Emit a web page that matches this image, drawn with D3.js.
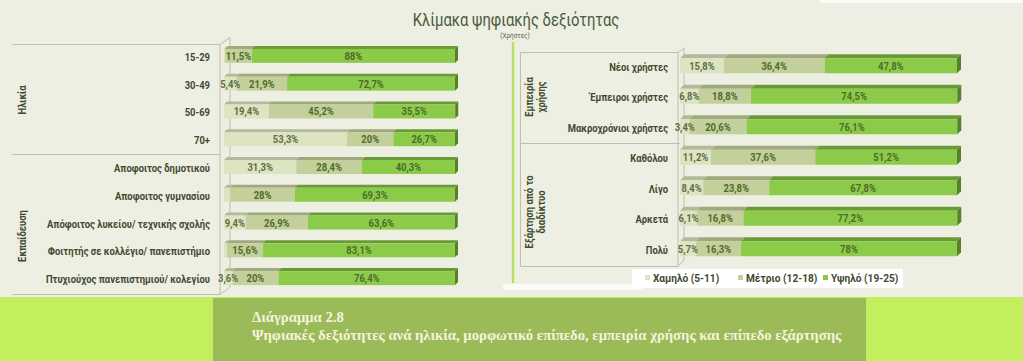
<!DOCTYPE html>
<html>
<head>
<meta charset="utf-8">
<script src="https://cdn.jsdelivr.net/npm/d3@7"></script>
<style>
  body { margin: 0; background: #edefe2; }
  svg { display: block; }
</style>
</head>
<body>
<svg id="chart" width="1023" height="361"></svg>
<script>
// --- data ---
var seriesNames = ["Χαμηλό (5-11)", "Μέτριο (12-18)", "Υψηλό (19-25)"];

var leftCategories = ["15-29", "30-49", "50-69", "70+",
  "Αποφοιτος δημοτικού", "Αποφοιτος γυμνασίου", "Απόφοιτος λυκείου/ τεχνικής σχολής",
  "Φοιτητής σε κολλέγιο/ πανεπιστήμιο", "Πτυχιούχος πανεπιστημιού/ κολεγίου"];
var leftLow = [0.5, 5.4, 19.4, 53.3, 31.3, 2.7, 9.4, 1.3, 3.6];
var leftMid = [11.5, 21.9, 45.2, 20, 28.4, 28, 26.9, 15.6, 20];
var leftHigh = [88, 72.7, 35.5, 26.7, 40.3, 69.3, 63.6, 83.1, 76.4];

var rightCategories = ["Νέοι χρήστες", "Έμπειροι χρήστες", "Μακροχρόνιοι χρήστες",
  "Καθόλου", "Λίγο", "Αρκετά", "Πολύ"];
var rightLow = [15.8, 6.8, 3.4, 11.2, 8.4, 6.1, 5.7];
var rightMid = [36.4, 18.8, 20.6, 37.6, 23.8, 16.8, 16.3];
var rightHigh = [47.8, 74.5, 76.1, 51.2, 67.8, 77.2, 78];

var sans = "'Roboto', 'Noto Sans', sans-serif";
var frontColors = ["#dde4c2", "#c4d09b", "#8ccb4a"];
var topColors = ["#b3b99a", "#a0a87e", "#6a9a35"];
var sideColor = "#57802a";
var lineColor = "#bcc0ac";
var textColor = "#3f4a30";

var svg = d3.select("#chart");

// text squeezed sideways, the original font is a narrow one
function narrowText(parent, x, y, sx, str) {
  return parent.append("text")
    .attr("transform", "translate(" + x + "," + y + ") scale(" + sx + ",1)")
    .attr("font-family", sans)
    .text(str);
}

// background + bottom caption band
svg.append("rect").attr("width", 1023).attr("height", 361).attr("fill", "#edefe2");
svg.append("rect").attr("x", 820).attr("y", 0).attr("width", 203).attr("height", 3).attr("fill", "#fbfbf7");
svg.append("rect").attr("x", 0).attr("y", 297).attr("width", 1023).attr("height", 64).attr("fill", "#c3ef5f");
svg.append("rect").attr("x", 213).attr("y", 298).attr("width", 653).attr("height", 63).attr("fill", "#9bbb59");

svg.append("text").attr("x", 252).attr("y", 322)
  .attr("font-family", "'Liberation Serif', serif").attr("font-weight", "bold")
  .attr("font-size", 14.7).attr("fill", "#f6f2de").text("Διάγραμμα 2.8");
svg.append("text").attr("x", 252).attr("y", 340)
  .attr("font-family", "'Liberation Serif', serif").attr("font-weight", "bold")
  .attr("font-size", 14.7).attr("fill", "#f6f2de")
  .text("Ψηφιακές δεξιότητες ανά ηλικία, μορφωτικό επίπεδο, εμπειρία χρήσης και επίπεδο εξάρτησης");

// title
narrowText(svg, 516, 26, 0.8, "Κλίμακα  ψηφιακής δεξιότητας")
  .attr("text-anchor", "middle").attr("font-size", 18.5).attr("fill", "#4a5a3c");
narrowText(svg, 515, 37.5, 0.85, "(Χρήστες)")
  .attr("text-anchor", "middle").attr("font-size", 7.5).attr("fill", "#5a6450");

function fmt(v) {
  return String(v).replace(".", ",") + "%";
}

function drawPanel(cfg) {
  var g = svg.append("g");
  var rows = cfg.categories.map(function (c, i) {
    return { cat: c, low: cfg.low[i], mid: cfg.mid[i], high: cfg.high[i] };
  });
  var stack = d3.stack().keys(["low", "mid", "high"]);
  var layers = stack(rows);

  var y = d3.scaleBand().domain(cfg.categories).range(cfg.yRange);
  var x = d3.scaleLinear().domain([0, 100]).range(cfg.xRange);
  var d = cfg.depth;

  function cy(c) { return y(c) + y.bandwidth() / 2; }

  layers.forEach(function (layer, k) {
    var seg = g.selectAll(null).data(layer).enter().append("g");
    // top face
    seg.append("path")
      .attr("fill", topColors[k])
      .attr("d", function (p) {
        var t = cy(p.data.cat) - cfg.above, x0 = x(p[0]), x1 = x(p[1]);
        return "M" + x0 + "," + t + "L" + (x0 + d) + "," + (t - d) + "L" + (x1 + d) + "," + (t - d) + "L" + x1 + "," + t + "Z";
      });
    // front face
    seg.append("rect")
      .attr("fill", frontColors[k])
      .attr("x", function (p) { return x(p[0]); })
      .attr("width", function (p) { return Math.max(0, x(p[1]) - x(p[0])); })
      .attr("y", function (p) { return cy(p.data.cat) - cfg.above; })
      .attr("height", cfg.above + cfg.below);
  });

  // right side face of each bar
  var last = layers[layers.length - 1];
  g.selectAll(null).data(last).enter().append("path")
    .attr("fill", sideColor)
    .attr("d", function (p) {
      var t = cy(p.data.cat) - cfg.above, b = cy(p.data.cat) + cfg.below, x1 = x(p[1]);
      return "M" + x1 + "," + t + "L" + (x1 + d) + "," + (t - d) + "L" + (x1 + d) + "," + (b - d) + "L" + x1 + "," + b + "Z";
    });

  // value labels
  layers.forEach(function (layer, k) {
    layer.filter(function (p) { return p.data[layer.key] >= 3; }).forEach(function (p) {
      narrowText(g, (x(p[0]) + x(p[1])) / 2, cy(p.data.cat) + 3, 0.9, fmt(p.data[layer.key]))
        .attr("text-anchor", "middle")
        .attr("font-size", 10.5).attr("font-weight", "bold")
        .attr("fill", k === 0 ? "#5e6e44" : "#4f6b28");
    });
  });

  // category labels
  cfg.categories.forEach(function (c) {
    narrowText(g, cfg.labelX, cy(c) + 4, 0.82, c)
      .attr("text-anchor", "end")
      .attr("font-size", 11.5).attr("font-weight", "bold")
      .attr("fill", textColor);
  });

  return { x: x, y: y };
}

// left panel frame
var frame = svg.append("g").attr("stroke", lineColor).attr("fill", "none").attr("stroke-width", 1);
frame.append("path").attr("d", "M12,44.5H220L230,37.5V287L220,294.5H12");
frame.append("path").attr("d", "M220,44.5V294.5");
frame.append("path").attr("d", "M12,154.5H220");

// right panel frame
frame.append("path").attr("d", "M520.5,52.5H678L684,48V260L678,266.5H520.5Z");
frame.append("path").attr("d", "M678,52.5V266.5");
frame.append("path").attr("d", "M520.5,143.5H680");
svg.append("line").attr("x1", 513).attr("x2", 513).attr("y1", 42).attr("y2", 283)
  .attr("stroke", "#b8e060").attr("stroke-width", 2.5);

drawPanel({
  categories: leftCategories, low: leftLow, mid: leftMid, high: leftHigh,
  xRange: [224, 455], yRange: [43, 293], depth: 3, above: 8, below: 6, labelX: 210
});
drawPanel({
  categories: rightCategories, low: rightLow, mid: rightMid, high: rightHigh,
  xRange: [680, 957], yRange: [51.5, 265], depth: 4, above: 8.5, below: 6.5, labelX: 668
});

// group labels (rotated)
function groupLabel(lines, xPos, yPos) {
  var t = svg.append("text")
    .attr("transform", "translate(" + xPos + "," + yPos + ") rotate(-90) scale(0.82,1)")
    .attr("text-anchor", "middle")
    .attr("font-family", sans).attr("font-size", 11.5).attr("font-weight", "bold")
    .attr("fill", textColor);
  lines.forEach(function (l, i) {
    t.append("tspan").attr("x", 0).attr("dy", i === 0 ? 0 : 12).text(l);
  });
}
groupLabel(["Ηλικία"], 26, 100);
groupLabel(["Εκπαίδευση"], 26, 236);
groupLabel(["Εμπειρία", "χρήσης"], 533, 97);
groupLabel(["Εξάρτηση από το", "διαδίκτυο"], 533, 212);

// legend
svg.append("rect").attr("x", 503).attr("y", 284).attr("width", 140).attr("height", 6).attr("fill", "#fafaf6");
svg.append("rect").attr("x", 632).attr("y", 269).attr("width", 271).attr("height", 19).attr("fill", "#ffffff");
var legendX = [645, 738, 823];
seriesNames.forEach(function (s, i) {
  var lg = svg.append("g").attr("transform", "translate(" + legendX[i] + ",275)");
  lg.append("rect").attr("width", 5).attr("height", 5).attr("fill", frontColors[i]);
  narrowText(lg, 8, 6.5, 0.88, s)
    .attr("font-size", 11.5).attr("font-weight", "bold").attr("fill", textColor);
});
</script>
</body>
</html>
